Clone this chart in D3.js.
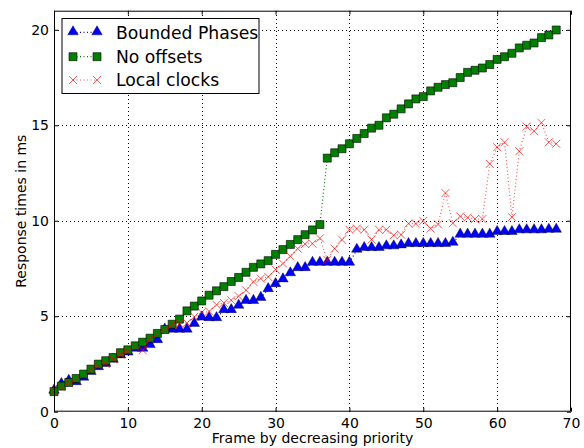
<!DOCTYPE html>
<html><head><meta charset="utf-8">
<script src="https://cdn.jsdelivr.net/npm/d3@7"></script>
<style>body{margin:0;background:#fff}svg{display:block;font-family:"DejaVu Sans",sans-serif}</style>
</head><body><svg id="c" width="584" height="448"></svg>
<script>
const frames = [0,1,2,3,4,5,6,7,8,9,10,11,12,13,14,15,16,17,18,19,20,21,22,23,24,25,26,27,28,29,30,31,32,33,34,35,36,37,38,39,40,41,42,43,44,45,46,47,48,49,50,51,52,53,54,55,56,57,58,59,60,61,62,63,64,65,66,67,68];
const boundedPhases = [1.1,1.45,1.62,1.55,1.78,2.08,2.33,2.5,2.72,2.95,3.1,3.3,3.3,3.49,3.75,4.3,4.3,4.3,4.3,4.6,4.93,4.9,4.9,5.32,5.32,5.55,5.8,5.8,5.96,6.42,6.68,6.93,7.25,7.52,7.52,7.8,7.8,7.8,7.8,7.8,7.8,8.48,8.57,8.57,8.57,8.66,8.66,8.71,8.78,8.78,8.78,8.78,8.78,8.78,8.85,9.27,9.27,9.27,9.27,9.27,9.41,9.41,9.41,9.5,9.5,9.5,9.5,9.53,9.53];
const noOffsets = [1.05,1.34,1.53,1.74,1.97,2.23,2.49,2.67,2.84,3.09,3.24,3.45,3.64,3.85,4.1,4.3,4.58,4.85,5.28,5.53,5.8,6.1,6.33,6.55,6.82,7.03,7.3,7.56,7.74,7.91,8.24,8.49,8.76,9.01,9.27,9.52,9.8,13.28,13.56,13.77,14.03,14.31,14.57,14.85,15.0,15.39,15.58,15.86,16.12,16.38,16.5,16.8,16.99,17.13,17.23,17.5,17.77,17.88,18.0,18.18,18.45,18.59,18.77,19.05,19.19,19.31,19.59,19.73,19.99];
const localClocks = [1.05,1.3,1.5,1.7,1.95,2.2,2.4,2.5,2.75,3.0,3.15,3.4,3.22,3.8,4.05,4.3,4.55,4.6,4.65,4.97,5.2,5.25,5.6,5.7,5.84,6.05,6.36,6.8,6.97,7.06,7.44,7.76,8.14,8.54,8.78,8.8,9.08,7.95,8.54,9.01,9.53,9.59,9.53,9.01,9.53,9.53,9.24,9.27,9.85,9.85,9.99,9.59,9.81,11.45,9.87,10.23,10.16,10.09,10.09,12.98,13.85,14.11,10.19,13.64,14.93,14.69,15.13,14.11,14.03];
const seriesNames = ["Bounded Phases","No offsets","Local clocks"];
const xTicks = [0,10,20,30,40,50,60,70];
const yTicks = [0,5,10,15,20];
const xLabel = "Frame by decreasing priority";
const yLabel = "Response times in ms";

const L=54, R=571, T=10.7, B=411.7;
const svg = d3.select("#c");
const x = d3.scaleLinear().domain([0,70]).range([L,R]);
const y = d3.scaleLinear().domain([0,21]).range([B,T]);

// grid
const g = svg.append("g");
g.selectAll(".gx").data(xTicks.slice(1,-1)).join("line")
  .attr("x1",d=>x(d)+0.5).attr("x2",d=>x(d)+0.5).attr("y1",T).attr("y2",B)
  .attr("stroke","#000").attr("stroke-width",1).attr("stroke-dasharray","1,3").attr("shape-rendering","crispEdges");
g.selectAll(".gy").data(yTicks.slice(1)).join("line")
  .attr("y1",d=>Math.round(y(d))+0.5).attr("y2",d=>Math.round(y(d))+0.5).attr("x1",L).attr("x2",R)
  .attr("stroke","#000").attr("stroke-width",1).attr("stroke-dasharray","1,3").attr("shape-rendering","crispEdges");

// axes (ticks inward)
const xb = d3.axisBottom(x).tickValues(xTicks).tickSize(-4).tickPadding(6).tickFormat(d3.format("d"));
const xt = d3.axisTop(x).tickValues(xTicks).tickSize(-4).tickFormat("");
const yl = d3.axisLeft(y).tickValues(yTicks).tickSize(-4).tickPadding(5).tickFormat(d3.format("d"));
const yr = d3.axisRight(y).tickValues(yTicks).tickSize(-4).tickFormat("");
function styleAxis(sel){sel.select(".domain").remove();sel.selectAll("text").attr("font-size",14).attr("fill","#000").attr("font-family","DejaVu Sans");sel.selectAll("line").attr("stroke","#000");}
svg.append("g").attr("transform",`translate(0,${B})`).call(xb).call(styleAxis).selectAll("text").attr("dy","0.71em");
svg.append("g").attr("transform",`translate(0,${T})`).call(xt).call(styleAxis);
svg.append("g").attr("transform",`translate(${L},0)`).call(yl).call(styleAxis);
svg.append("g").attr("transform",`translate(${R},0)`).call(yr).call(styleAxis);

// series
const sq = d3.symbol().type(d3.symbolSquare).size(64);
const tri = d3.symbol().type(d3.symbolTriangle).size(48);
const series = [
  {name:seriesNames[0], vals:boundedPhases, color:"#0000ff", marker:"tri", op:1},
  {name:seriesNames[1], vals:noOffsets, color:"#008000", marker:"sq", op:1},
  {name:seriesNames[2], vals:localClocks, color:"#ff0000", marker:"x", op:0.65}
];
function drawMarker(sel, m, color, op){
  if(m==="sq") sel.append("path").attr("d",sq).attr("fill",color).attr("stroke","#000").attr("stroke-width",0.6);
  else if(m==="tri") sel.append("path").attr("d",tri).attr("transform","translate(0,-0.5)").attr("fill",color).attr("stroke","#000").attr("stroke-width",0.4);
  else { sel.append("path").attr("d","M-4,-4L4,4M-4,4L4,-4").attr("stroke",color).attr("stroke-width",1).attr("fill","none").attr("opacity",op); }
}
const line = d3.line().x((d,i)=>x(frames[i])).y(d=>y(d));
series.forEach(s=>{
  const gs = svg.append("g");
  gs.append("path").attr("d",line(s.vals)).attr("fill","none").attr("stroke",s.color)
    .attr("stroke-width",1.2).attr("stroke-dasharray","1,2.5").attr("opacity",s.op);
  gs.selectAll("g.m").data(s.vals).join("g").attr("class","m")
    .attr("transform",(d,i)=>`translate(${x(frames[i])},${y(d)})`)
    .each(function(){drawMarker(d3.select(this), s.marker, s.color, s.op);});
});

// frame
svg.append("rect").attr("x",L+0.5).attr("y",T+0.5).attr("width",R-L-1).attr("height",B-T-1)
  .attr("fill","none").attr("stroke","#000").attr("stroke-width",1);

// labels
svg.append("text").attr("x",(L+R)/2).attr("y",443).attr("text-anchor","middle").attr("font-size",14).text(xLabel);
svg.append("text").attr("transform",`translate(25.5,${(T+B)/2}) rotate(-90)`).attr("text-anchor","middle").attr("font-size",14).text(yLabel);

// legend
const lg = svg.append("g");
lg.append("rect").attr("x",62).attr("y",18.5).attr("width",197).attr("height",75).attr("fill","#fff").attr("stroke","#000").attr("stroke-width",1);
const ly = [32.3,56.7,80];
series.forEach((s,i)=>{
  const row = lg.append("g").attr("transform",`translate(0,${ly[i]})`);
  row.append("line").attr("x1",73).attr("x2",97).attr("y1",0).attr("y2",0).attr("stroke",s.color)
    .attr("stroke-width",1.2).attr("stroke-dasharray","1,2.5").attr("opacity",s.op);
  [73,97].forEach(px=>{ const m=row.append("g").attr("transform",`translate(${px},0)`); drawMarker(m,s.marker,s.color,s.op); });
  row.append("text").attr("x",116).attr("y",0).attr("dy","0.36em").attr("font-size",17.2).text(s.name);
});
</script></body></html>
